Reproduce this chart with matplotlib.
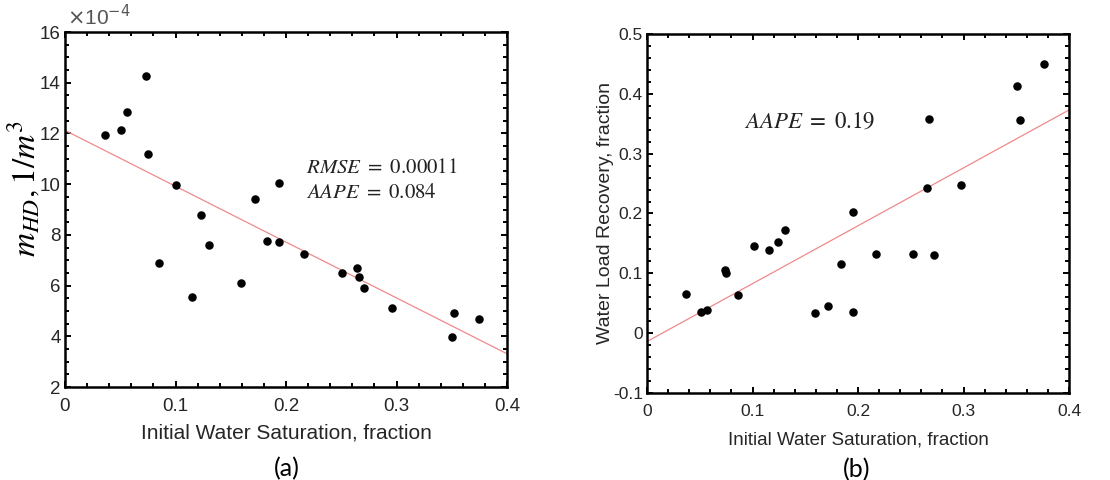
import numpy as np
from matplotlib import pyplot as plt
from matplotlib.ticker import MultipleLocator

# (a) m_HD values are in units of 1e-4 (1/m^3)
sw_a = [0.036, 0.051, 0.056, 0.073, 0.075, 0.085, 0.100, 0.115, 0.123, 0.130,
        0.159, 0.172, 0.183, 0.194, 0.194, 0.216, 0.251, 0.264, 0.266, 0.271,
        0.296, 0.350, 0.352, 0.375]
mhd = [11.92, 12.15, 12.86, 14.26, 11.18, 6.89, 9.98, 5.56, 8.77, 7.59,
       6.11, 9.41, 7.76, 7.73, 10.06, 7.26, 6.48, 6.71, 6.32, 5.89,
       5.13, 3.96, 4.92, 4.67]
fit_a_x = [0.0, 0.4]
fit_a_y = [12.12, 3.31]

# (b) water load recovery
sw_b = [0.037, 0.051, 0.057, 0.074, 0.075, 0.086, 0.101, 0.116, 0.124, 0.131,
        0.159, 0.172, 0.184, 0.195, 0.195, 0.217, 0.252, 0.265, 0.267, 0.272,
        0.298, 0.351, 0.354, 0.376]
wlr = [0.066, 0.035, 0.038, 0.105, 0.100, 0.064, 0.145, 0.139, 0.153, 0.173,
       0.033, 0.045, 0.116, 0.203, 0.036, 0.133, 0.133, 0.242, 0.358, 0.131,
       0.248, 0.413, 0.357, 0.450]
fit_b_x = [0.0, 0.4]
fit_b_y = [-0.014, 0.373]

plt.rcParams['font.family'] = ['Liberation Sans', 'DejaVu Sans']
plt.rcParams['mathtext.fontset'] = 'stix'

tick_col = '#262626'
line_col = '#f08a8a'

fig = plt.figure(figsize=(11.1, 4.8), dpi=100)
ax1 = fig.add_axes([65 / 1110, 1 - 387 / 480, 442 / 1110, 355 / 480])
ax2 = fig.add_axes([647 / 1110, 1 - 393 / 480, 422 / 1110, 359 / 480])


def style_axis(ax, ymajor, yminor, fsize, xpad):
    ax.set_xlim(0, 0.4)
    ax.xaxis.set_major_locator(MultipleLocator(0.1))
    ax.xaxis.set_minor_locator(MultipleLocator(0.02))
    ax.yaxis.set_major_locator(MultipleLocator(ymajor))
    ax.yaxis.set_minor_locator(MultipleLocator(yminor))
    ax.xaxis.set_major_formatter(lambda v, p: f"{v:g}")
    ax.yaxis.set_major_formatter(lambda v, p: f"{v:g}")
    ax.tick_params(which='both', direction='in', top=True, right=True,
                   colors='black', labelcolor=tick_col, labelsize=fsize, width=1.4)
    ax.tick_params(which='major', length=4.5)
    ax.tick_params(which='minor', length=3)
    ax.tick_params(axis='x', which='major', pad=xpad)
    ax.tick_params(axis='y', which='major', pad=3)
    for s in ax.spines.values():
        s.set_linewidth(1.8)
        s.set_color('black')


# --- panel (a)
ax1.plot(fit_a_x, fit_a_y, color=line_col, lw=0.9, zorder=2)
ax1.scatter(sw_a, mhd, s=26, color='black', zorder=3)
ax1.set_ylim(2, 16)
style_axis(ax1, 2, 0.5, 13.5, 8)
ax1.text(0.005, 1.008, r'$\times\mathregular{10}^{-4}$', transform=ax1.transAxes,
         color='#555555', fontsize=15, math_fontfamily='dejavusans', va='bottom')
ax1.set_xlabel('Initial Water Saturation, fraction', fontsize=15, color=tick_col, labelpad=6)
ax1.set_ylabel(r'$m_{HD}, 1/m^3$', fontsize=24)
ax1.yaxis.set_label_coords(-0.052, 0.56)
ax1.text(0.2185, 10.64, r'$RMSE\ =\ 0.00011$', fontsize=15, color='#222222', va='center')
ax1.text(0.2185, 9.69, r'$AAPE\ =\ 0.084$', fontsize=15, color='#222222', va='center')

# --- panel (b)
ax2.plot(fit_b_x, fit_b_y, color=line_col, lw=0.9, zorder=2)
ax2.scatter(sw_b, wlr, s=26, color='black', zorder=3)
ax2.set_ylim(-0.1, 0.5)
style_axis(ax2, 0.1, 0.02, 12.5, 8)
ax2.set_xlabel('Initial Water Saturation, fraction', fontsize=13.5, color=tick_col, labelpad=9)
ax2.set_ylabel('Water Load Recovery, fraction', fontsize=14, color=tick_col)
ax2.yaxis.set_label_coords(-0.078, 0.5)
ax2.text(0.092, 0.354, r'$AAPE\ =\ 0.19$', fontsize=16.5, color='#222222', va='center')

fig.text(287 / 1110, 1 - 469 / 480, '(a)', fontsize=18, family='Lato', ha='center', va='center')
fig.text(857 / 1110, 1 - 470 / 480, '(b)', fontsize=18, family='Lato', ha='center', va='center')

fig.savefig('out.png', dpi=100)
